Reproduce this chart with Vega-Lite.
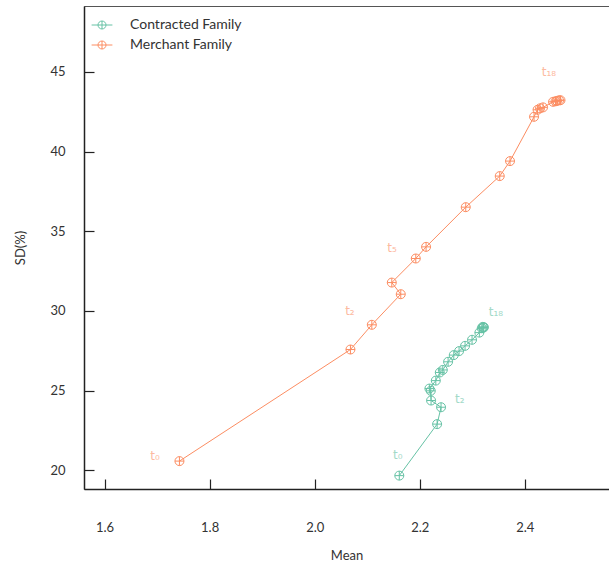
{
  "$schema": "https://vega.github.io/schema/vega-lite/v6.json",
  "width": 525,
  "height": 483,
  "autosize": {"type": "none"},
  "padding": {"left": 84, "top": 6, "right": 0, "bottom": 74},
  "background": "white",
  "config": {
    "view": {"stroke": "#555", "strokeWidth": 1},
    "font": "Lato",
    "axis": {
      "grid": false,
      "domainColor": "#222",
      "domainWidth": 1.5,
      "tickColor": "#222",
      "tickWidth": 1.2,
      "tickSize": -10,
      "labelFont": "Lato",
      "labelFontSize": 13,
      "labelColor": "#333",
      "titleFont": "Lato",
      "titleFontSize": 13,
      "titleFontWeight": "normal",
      "titleColor": "#333"
    }
  },
  "datasets": {
    "pts": [
      {"family": "Contracted Family", "t": 0, "mean": 2.161, "sd": 19.67},
      {"family": "Contracted Family", "t": 1, "mean": 2.233, "sd": 22.90},
      {"family": "Contracted Family", "t": 2, "mean": 2.2405, "sd": 23.96},
      {"family": "Contracted Family", "t": 3, "mean": 2.2215, "sd": 24.38},
      {"family": "Contracted Family", "t": 4, "mean": 2.2209, "sd": 24.99},
      {"family": "Contracted Family", "t": 5, "mean": 2.2183, "sd": 25.13},
      {"family": "Contracted Family", "t": 6, "mean": 2.2305, "sd": 25.63},
      {"family": "Contracted Family", "t": 7, "mean": 2.2381, "sd": 26.14},
      {"family": "Contracted Family", "t": 8, "mean": 2.2438, "sd": 26.30},
      {"family": "Contracted Family", "t": 9, "mean": 2.2539, "sd": 26.81},
      {"family": "Contracted Family", "t": 10, "mean": 2.2647, "sd": 27.23},
      {"family": "Contracted Family", "t": 11, "mean": 2.2748, "sd": 27.48},
      {"family": "Contracted Family", "t": 12, "mean": 2.2862, "sd": 27.81},
      {"family": "Contracted Family", "t": 13, "mean": 2.2995, "sd": 28.19},
      {"family": "Contracted Family", "t": 14, "mean": 2.3134, "sd": 28.64},
      {"family": "Contracted Family", "t": 15, "mean": 2.318, "sd": 28.92},
      {"family": "Contracted Family", "t": 16, "mean": 2.3199, "sd": 29.00},
      {"family": "Contracted Family", "t": 17, "mean": 2.321, "sd": 28.95},
      {"family": "Contracted Family", "t": 18, "mean": 2.322, "sd": 28.98},
      {"family": "Merchant Family", "t": 0, "mean": 1.7425, "sd": 20.58},
      {"family": "Merchant Family", "t": 1, "mean": 2.068, "sd": 27.58},
      {"family": "Merchant Family", "t": 2, "mean": 2.1087, "sd": 29.13},
      {"family": "Merchant Family", "t": 3, "mean": 2.1638, "sd": 31.05},
      {"family": "Merchant Family", "t": 4, "mean": 2.1467, "sd": 31.78},
      {"family": "Merchant Family", "t": 5, "mean": 2.1924, "sd": 33.29},
      {"family": "Merchant Family", "t": 6, "mean": 2.212, "sd": 34.02},
      {"family": "Merchant Family", "t": 7, "mean": 2.2875, "sd": 36.51},
      {"family": "Merchant Family", "t": 8, "mean": 2.3522, "sd": 38.46},
      {"family": "Merchant Family", "t": 9, "mean": 2.3718, "sd": 39.40},
      {"family": "Merchant Family", "t": 10, "mean": 2.4175, "sd": 42.18},
      {"family": "Merchant Family", "t": 11, "mean": 2.4242, "sd": 42.62},
      {"family": "Merchant Family", "t": 12, "mean": 2.4289, "sd": 42.71},
      {"family": "Merchant Family", "t": 13, "mean": 2.4346, "sd": 42.77},
      {"family": "Merchant Family", "t": 14, "mean": 2.4537, "sd": 43.12},
      {"family": "Merchant Family", "t": 15, "mean": 2.4584, "sd": 43.15},
      {"family": "Merchant Family", "t": 16, "mean": 2.4613, "sd": 43.18},
      {"family": "Merchant Family", "t": 17, "mean": 2.4651, "sd": 43.21},
      {"family": "Merchant Family", "t": 18, "mean": 2.4679, "sd": 43.22}
    ],
    "lbl": [
      {"family": "Merchant Family", "label": "t₀", "mean": 1.696, "sd": 20.91},
      {"family": "Merchant Family", "label": "t₂", "mean": 2.067, "sd": 30.01},
      {"family": "Merchant Family", "label": "t₅", "mean": 2.147, "sd": 33.96},
      {"family": "Merchant Family", "label": "t₁₈", "mean": 2.446, "sd": 45.0},
      {"family": "Contracted Family", "label": "t₀", "mean": 2.158, "sd": 20.97},
      {"family": "Contracted Family", "label": "t₂", "mean": 2.276, "sd": 24.49},
      {"family": "Contracted Family", "label": "t₁₈", "mean": 2.345, "sd": 29.94}
    ]
  },
  "encoding": {
    "x": {
      "field": "mean", "type": "quantitative",
      "scale": {"domain": [1.5608, 2.5602], "nice": false, "zero": false},
      "axis": {"title": "Mean", "values": [1.6, 1.8, 2.0, 2.2, 2.4], "format": ".1f", "labelPadding": 42, "titlePadding": 15}
    },
    "y": {
      "field": "sd", "type": "quantitative",
      "scale": {"domain": [18.83, 49.13], "nice": false, "zero": false},
      "axis": {"title": "SD(%)", "values": [20, 25, 30, 35, 40, 45], "labelPadding": 29, "titlePadding": 22}
    },
    "color": {
      "field": "family", "type": "nominal",
      "scale": {"domain": ["Contracted Family", "Merchant Family"], "range": ["#66c2a5", "#fc8d62"]},
      "legend": {
        "title": null,
        "orient": "none",
        "legendX": 11,
        "legendY": 12,
        "padding": 0,
        "symbolType": "M-2.6,0L2.6,0M-1,0A1,1,0,1,1,1,0A1,1,0,1,1,-1,0M0,-1L0,1",
        "symbolSize": 64,
        "symbolStrokeWidth": 1,
        "labelOffset": 21,
        "labelFont": "Lato",
        "labelFontSize": 14,
        "labelColor": "#333",
        "rowPadding": 6,
        "encode": {"symbols": {"update": {"fill": {"value": "transparent"}, "fillOpacity": {"value": 0}}}}
      }
    }
  },
  "layer": [
    {
      "data": {"name": "pts"},
      "mark": {"type": "line", "strokeWidth": 1},
      "encoding": {"order": {"field": "t", "type": "quantitative"}}
    },
    {
      "data": {"name": "pts"},
      "mark": {
        "type": "point", "filled": false, "strokeWidth": 1, "size": 81, "opacity": 1,
        "shape": "M-1,0A1,1,0,1,1,1,0A1,1,0,1,1,-1,0M-1,0L1,0M0,-1L0,1"
      },
      "encoding": {}
    },
    {
      "data": {"name": "lbl"},
      "mark": {"type": "text", "font": "DejaVu Sans", "fontSize": 12, "opacity": 0.6},
      "encoding": {
        "text": {"field": "label"}
      }
    }
  ]
}
